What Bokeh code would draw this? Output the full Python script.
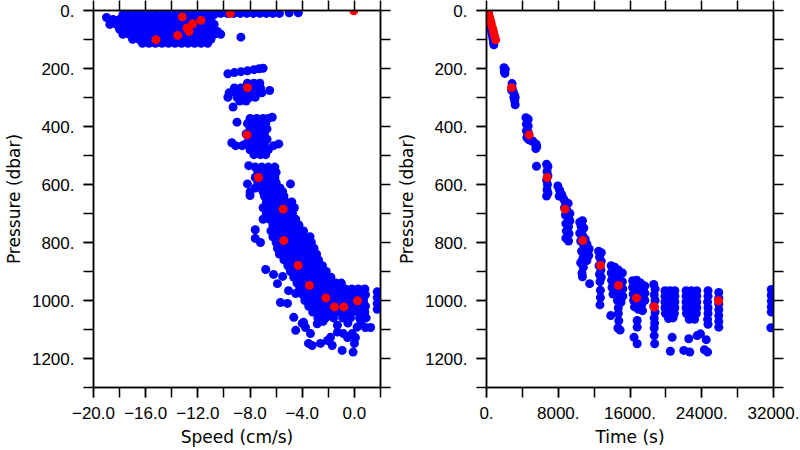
from bokeh.plotting import figure
from bokeh.models import Range1d, FixedTicker, LinearAxis, GlobalInlineStyleSheet
from bokeh.layouts import row
from bokeh.embed import file_html
from bokeh.resources import INLINE

# ---------------- axis ticks / labels ----------------
pres_ticks = [0, 200, 400, 600, 800, 1000, 1200]
pres_minor = [0, 100, 200, 300, 400, 500, 600, 700, 800, 900, 1000, 1100, 1200, 1300]
pres_labels = ["0.", "200.", "400.", "600.", "800.", "1000.", "1200."]
speed_ticks = [-20, -16, -12, -8, -4, 0]
speed_minor = [-20, -18, -16, -14, -12, -10, -8, -6, -4, -2, 0, 2]
speed_labels = ["\u221220.0", "\u221216.0", "\u221212.0", "\u22128.0", "\u22124.0", "0.0"]
time_ticks = [0, 8000, 16000, 24000, 32000]
time_minor = [0, 4000, 8000, 12000, 16000, 20000, 24000, 28000, 32000]
time_labels = ["0.", "8000.", "16000.", "24000.", "32000."]

# ---------------- left panel: blue samples, rows of (pressure, speeds) ----------------
surface_rows = [
    (14, [-17.75, -17.25, -16.75, -16.25, -15.75, -15.25, -14.75, -14.25, -13.75, -13.25, -12.75, -12.25, -11.75, -11.25, -10.75]),
    (10, [-10.25, -9.75, -9.25, -8.75, -8.25, -7.75, -7.25, -6.75, -6.25, -5.75]),
    (8, [-5.0, -4.3]),
    (24, [-19.0]),
    (31, [-18.5, -18.0, -17.5, -17.0, -16.5, -16.0, -15.5, -15.0, -14.5, -14.0, -13.5, -13.0, -12.5, -12.0, -11.5, -11.0]),
    (48, [-18.75, -18.25, -17.75, -17.25, -16.75, -16.25, -15.75, -15.25, -14.75, -14.25, -13.75, -13.25, -12.75, -12.25, -11.75, -11.25, -10.75]),
    (65, [-18.0, -17.5, -17.0, -16.5, -16.0, -15.5, -15.0, -14.5, -14.0, -13.5, -13.0, -12.5, -12.0, -11.5, -11.0]),
    (72, [-10.5]),
    (82, [-17.75, -17.25, -16.75, -16.25, -15.75, -15.25, -14.75, -14.25, -13.75, -13.25, -12.75, -12.25, -11.75, -11.25, -10.75, -10.25]),
    (92, [-8.7]),
    (99, [-17.0, -16.5, -16.0, -15.5, -15.0, -14.5, -14.0, -13.5, -13.0, -12.5, -12.0, -11.5, -11.0]),
    (113, [-16.25, -15.75, -15.25, -14.75, -14.25, -13.75, -13.25, -12.75, -12.25, -11.75, -11.25]),
]
middle_rows = [
    (218, [-9.7]), (214, [-9.2]), (211, [-8.7]), (208, [-8.2]), (204, [-7.7]), (201, [-7.3]), (199, [-7.0]),
    (251, [-8.2, -7.7, -7.25]),
    (267, [-9.2, -8.7, -8.2, -7.7, -7.2]),
    (276, [-6.5]),
    (284, [-9.6, -9.1, -8.6, -8.1, -7.6, -7.1]),
    (299, [-9.7, -9.0, -8.5, -8.0, -7.6]),
    (312, [-8.8, -8.3]),
    (333, [-9.3]),
    (368, [-6.3]),
    (372, [-8.0, -7.5, -7.0, -6.6]),
    (385, [-9.0]),
    (390, [-8.2, -7.7, -7.2, -6.8]),
    (408, [-8.0, -7.5, -7.0, -6.7]),
    (426, [-8.3, -7.8, -7.3, -6.9]),
    (444, [-8.1, -7.6, -7.1, -6.7]),
    (456, [-9.4]),
    (460, [-5.8]),
    (462, [-8.4, -7.9, -7.4, -6.9]),
    (466, [-9.1, -8.6, -6.2]),
    (480, [-8.0, -7.5, -7.0, -6.6]),
    (497, [-7.7, -7.2, -6.8]),
    (535, [-8.1]),
    (540, [-7.6, -7.1, -6.6, -6.1]),
    (558, [-7.4, -6.9, -6.4, -6.0]),
    (576, [-7.6, -7.1, -6.6, -6.1]),
    (594, [-7.4, -6.9, -6.4, -6.0]),
    (598, [-8.2, -4.9]),
    (612, [-7.6, -7.1, -6.6, -6.1, -5.7]),
    (625, [-7.0, -6.5, -6.0, -5.5]),
    (626, [-8.0]),
    (638, [-8.0]),
]
deep_rows = [
    (640, [-6.9, -6.4, -5.9, -5.4]),
    (660, [-6.75, -6.25, -5.75, -5.25, -4.8]),
    (680, [-7.0, -6.5, -6.0, -5.5, -5.0, -4.6]),
    (700, [-6.75, -6.25, -5.75, -5.25, -4.75]),
    (720, [-7.0, -6.5, -6.0, -5.5, -5.0, -4.5]),
    (740, [-6.25, -5.75, -5.25, -4.75, -4.25]),
    (760, [-6.4, -5.9, -5.4, -4.9, -4.4, -3.9]),
    (780, [-6.25, -5.75, -5.25, -4.75, -4.25, -3.75, -3.4]),
    (800, [-6.0, -5.5, -5.0, -4.5, -4.0, -3.5, -3.3]),
    (820, [-5.9, -5.4, -4.9, -4.4, -3.9, -3.4, -3.1]),
    (840, [-5.75, -5.25, -4.75, -4.25, -3.75, -3.25, -2.9]),
    (860, [-5.4, -4.9, -4.4, -3.9, -3.4, -2.9, -2.75]),
    (880, [-5.1, -4.6, -4.1, -3.6, -3.1, -2.6, -2.45]),
    (900, [-4.9, -4.4, -3.9, -3.4, -2.9, -2.4, -2.15]),
    (920, [-4.65, -4.15, -3.65, -3.15, -2.65, -2.15, -1.8]),
    (940, [-4.4, -3.9, -3.4, -2.9, -2.4, -1.9, -1.4, -1.0]),
    (960, [-4.2, -3.7, -3.2, -2.7, -2.2, -1.7, -1.2, -0.7, -0.2, 0.3, 0.8]),
    (980, [-3.95, -3.45, -2.95, -2.45, -1.95, -1.45, -0.95, -0.45, 0.05, 0.55, 0.85]),
    (1000, [-3.8, -3.3, -2.8, -2.3, -1.8, -1.3, -0.8, -0.3, 0.2, 0.7]),
    (1020, [-3.5, -3.0, -2.5, -2.0, -1.5, -1.0, -0.5, 0.0, 0.5, 0.85]),
    (1040, [-3.2, -2.7, -2.2, -1.7, -1.2, -0.7, -0.2, 0.3, 0.8]),
    (1060, [-2.8, -2.2, -1.6, -0.9, -0.3, 0.4, 0.9]),
    (970, [1.75]), (990, [1.75]), (1010, [1.75]), (1030, [1.75]),
]
outlier_speed = [-7.6, -7.6, -7.2, -6.8, -6.2, -5.5, -5.9, -5.05, -4.5, -5.67, -5.13, -4.65, -4.0, -3.75,
                 -4.5, -3.37, -3.52, -3.24, -2.85, -2.6, -2.06, -1.83, -1.7, -0.84, -0.53, -0.94, -0.1,
                 -0.17, 0.08, 0.21, 0.85, 1.24, -3.9, -2.4, -1.3, -0.5, 0.5, -1.3, 0.0]
outlier_pres = [756, 786, 800, 893, 910, 917, 942, 966, 976, 1007, 1010, 1058, 1079, 1093,
                1103, 1114, 1148, 1155, 1080, 1148, 1138, 1127, 1155, 1114, 1128, 1172, 1178,
                1114, 1128, 1092, 1093, 1093, 1075, 1072, 1085, 1078, 1072, 1109, 1148]

# ---------------- right panel: blue samples (time, pressure) ----------------
streak_time = [100, 150, 200, 260, 320, 380, 440, 500, 560, 620, 680, 740, 790, 820]
streak_pres = [0, 6, 12, 20, 30, 40, 50, 60, 70, 80, 90, 100, 110, 118]
station_time = [
    1950, 2100, 2000, 2050,
    2850, 2850, 2950, 3100, 3200, 3150, 3200, 3050, 2800,
    4400, 4650, 4450, 4650, 4450, 4650, 4500, 4700, 4900, 5150, 5400, 5550, 5500, 5600, 5575,
    6700, 6850, 6750, 6850, 6700, 6800, 6750, 6850, 6700,
    7950, 8150, 8100, 8400, 8600, 8800, 9100, 8700, 9000, 9300, 8800, 9100, 9300, 8850, 9150, 8900, 9200, 8850, 9150,
    10400, 10700, 10550, 10850, 10400, 10700, 11000, 10500, 10850, 11200, 11450, 10600, 11000, 11400, 10750, 11200,
    10500, 10800, 10650, 10700, 11500,
    12500, 12800, 12600, 12800, 12550, 12750, 12600, 12800, 12650, 12700, 12700, 12650,
    13900, 14300, 14700, 15150, 13900, 14300, 14700, 15150, 13950, 14350, 14750, 15200, 14000, 14400, 14800, 15200,
    14100, 14600, 15000, 14700, 14700, 14750, 14650, 14900, 13850,
    16300, 16750, 17200, 17650, 16300, 16750, 17200, 17650, 16350, 16800, 17250, 17650, 16400, 16850, 17300,
    16500, 16950, 17400, 16800, 16800, 16450, 16800,
    18650, 18800, 18700, 18800, 18650, 18800, 18700, 18750, 18700, 18700, 18750,
    19900, 20450, 21000, 19900, 20450, 21000, 19900, 20450, 21000, 19900, 20450, 21000, 19950, 20500, 20950,
    20300, 20800, 20700, 20500,
    22250, 22850, 23450, 22250, 22850, 23450, 22250, 22850, 23450, 22250, 22850, 23450, 22300, 22900, 23400,
    22600, 23200, 22550, 23490, 23860, 22000, 22670,
    24700, 24700, 24650, 24700, 24700, 24650, 24700, 24500, 24300, 24650,
    25900, 25900, 25900, 25900, 25900, 25900, 25900,
    31750, 31750, 31750, 31750, 31750, 31700,
]
station_pres = [
    197, 203, 210, 217,
    252, 266, 278, 290, 300, 312, 325, 300, 275,
    370, 375, 392, 398, 415, 420, 438, 445, 448, 450, 458, 462, 476, 470, 537,
    530, 538, 555, 570, 585, 600, 618, 630, 640,
    605, 620, 640, 635, 650, 660, 665, 680, 690, 700, 705, 715, 725, 735, 745, 760, 770, 785, 795,
    730, 725, 745, 750, 768, 775, 788, 795, 810, 805, 822, 830, 835, 845, 855, 862,
    870, 885, 905, 918, 942,
    830, 835, 850, 865, 880, 895, 910, 920, 935, 965, 990, 1015,
    880, 885, 895, 905, 905, 915, 925, 935, 930, 945, 955, 960, 955, 970, 980, 985,
    978, 1000, 1005, 1025, 1045, 1070, 1095, 1102, 1052,
    932, 930, 940, 950, 955, 955, 965, 975, 978, 980, 990, 1000, 1000, 1005, 1015,
    1022, 1030, 1035, 1069, 1092, 1127, 1149,
    945, 960, 980, 1000, 1020, 1040, 1060, 1078, 1095, 1121, 1149,
    966, 966, 966, 985, 985, 985, 1005, 1005, 1005, 1025, 1025, 1025, 1045, 1045, 1045,
    1062, 1060, 1127, 1175,
    966, 966, 966, 985, 985, 985, 1005, 1005, 1005, 1025, 1025, 1025, 1045, 1045, 1045,
    1065, 1065, 1132, 1121, 1115, 1172, 1178,
    966, 985, 1005, 1025, 1045, 1065, 1082, 1135, 1170, 1178,
    972, 992, 1012, 1032, 1052, 1072, 1092,
    962, 982, 1002, 1022, 1040, 1094,
]

# ---------------- red: profile means (same in both panels) ----------------
red_pres = [1, 10, 22, 34, 46, 60, 72, 86, 101, 266, 429, 576, 685, 793, 879, 948, 991, 1022, 1022, 1001]
red_speed = [-0.05, -9.51, -13.19, -11.77, -12.4, -12.83, -12.68, -13.55, -15.21, -8.2, -8.23, -7.36,
             -5.46, -5.42, -4.31, -3.45, -2.19, -1.53, -0.81, 0.24]
red_time = [150, 231, 335, 439, 541, 663, 767, 886, 1017, 2788, 4761, 6768, 8753, 10737, 12711,
            14718, 16725, 18699, 18720, 25868]

# expand rows into point lists
left_speed, left_pres = [], []
for rows in (surface_rows, middle_rows, deep_rows):
    for pr, speeds in rows:
        for s in speeds:
            left_speed.append(s)
            left_pres.append(pr)
left_speed += outlier_speed
left_pres += outlier_pres
right_time = streak_time + station_time
right_pres = streak_pres + station_pres

BLUE = "#0000ff"
RED = "#ff0000"
TICK_FONT = "Liberation Sans"
LABEL_FONT = "DejaVu Sans"
DOT = 9


def style_axis(ax):
    ax.axis_line_color = "black"
    ax.axis_line_width = 1.5
    ax.major_tick_line_width = 1.5
    ax.minor_tick_line_width = 1.5
    ax.major_tick_line_color = "black"
    ax.minor_tick_line_color = "black"
    ax.major_tick_out = 10
    ax.major_tick_in = 0
    ax.minor_tick_out = 10
    ax.minor_tick_in = 0
    ax.major_label_text_color = "black"
    ax.major_label_text_font = TICK_FONT
    ax.major_label_text_font_size = "17px"
    ax.axis_label_text_font = LABEL_FONT
    ax.axis_label_text_font_size = "17px"
    ax.axis_label_text_font_style = "normal"
    ax.axis_label_text_color = "black"


def make_panel(xr, xticks, xminor, xlabels, xtitle, left_border, right_border):
    p = figure(frame_width=287, frame_height=377, x_range=Range1d(*xr), y_range=Range1d(1300, 0),
               output_backend="svg", toolbar_location=None,
               min_border_left=left_border, min_border_right=right_border,
               min_border_top=10, min_border_bottom=63)
    p.xgrid.visible = False
    p.ygrid.visible = False
    p.outline_line_color = "black"
    p.outline_line_width = 1.5
    p.background_fill_color = "white"
    p.border_fill_color = "white"

    xa = p.xaxis[0]
    xa.ticker = FixedTicker(ticks=xticks, minor_ticks=xminor)
    xa.major_label_overrides = {t: l for t, l in zip(xticks, xlabels)}
    xa.axis_label = xtitle
    style_axis(xa)
    xa.major_label_standoff = 9
    xa.axis_label_standoff = 5

    ya = p.yaxis[0]
    ya.ticker = FixedTicker(ticks=pres_ticks, minor_ticks=pres_minor)
    ya.major_label_overrides = {t: l for t, l in zip(pres_ticks, pres_labels)}
    ya.axis_label = "Pressure (dbar)"
    style_axis(ya)
    ya.major_label_standoff = 9
    ya.axis_label_standoff = 5

    ra = LinearAxis(ticker=FixedTicker(ticks=[], minor_ticks=pres_minor))
    style_axis(ra)
    ra.major_label_standoff = 0
    p.add_layout(ra, "right")

    ta = LinearAxis(ticker=FixedTicker(ticks=[], minor_ticks=xminor))
    style_axis(ta)
    ta.major_label_standoff = 0
    p.add_layout(ta, "above")
    return p


p1 = make_panel((-20, 2), speed_ticks, speed_minor, speed_labels, "Speed (cm/s)", 93, 12)
p1.scatter(left_speed, left_pres, size=DOT, fill_color=BLUE, line_color=None)
p1.scatter(red_speed, red_pres, size=DOT, fill_color=RED, line_color=None)

p2 = make_panel((0, 32000), time_ticks, time_minor, time_labels, "Time (s)", 94, 27)
p2.scatter(right_time, right_pres, size=DOT, fill_color=BLUE, line_color=None)
p2.scatter(red_time, red_pres, size=DOT, fill_color=RED, line_color=None)

page_css = GlobalInlineStyleSheet(css="html, body { margin: 0 !important; padding: 0 !important; overflow: hidden; }")
layout = row(p1, p2, stylesheets=[page_css])
open("out.html", "w").write(file_html(layout, INLINE))
